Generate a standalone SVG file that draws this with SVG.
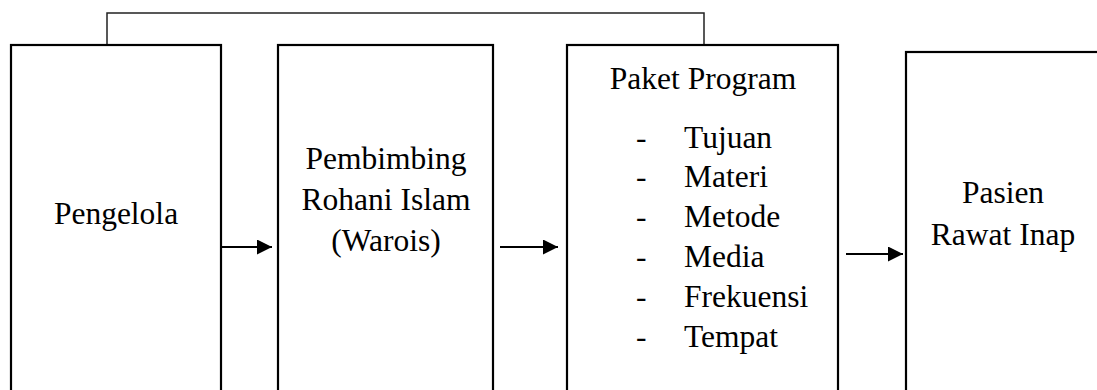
<svg xmlns="http://www.w3.org/2000/svg" width="1097" height="390" viewBox="0 0 1097 390">
<defs>
<style>
.box{fill:#fff;stroke:#000;stroke-width:2.2}
.t{font-family:'Liberation Serif','Times New Roman',serif;font-size:31.5px;fill:#000}
.c{text-anchor:middle}
.conn{fill:none;stroke:#000;stroke-width:2}
.top{fill:none;stroke:#222;stroke-width:1.5}
</style>
<marker id="ah" markerUnits="userSpaceOnUse" markerWidth="16" markerHeight="16" refX="15" refY="7.5" orient="auto">
<path d="M0,0 L15,7.5 L0,15 Z" fill="#000"/>
</marker>
</defs>
<g id="connectors">
<path class="top" d="M107,45 V13 H704 V45"/>
<line class="conn" x1="221" y1="247" x2="272" y2="247" marker-end="url(#ah)"/>
<line class="conn" x1="500" y1="247" x2="558" y2="247" marker-end="url(#ah)"/>
<line class="conn" x1="846" y1="254" x2="903" y2="254" marker-end="url(#ah)"/>
</g>
<g id="pengelola">
<rect class="box" x="11" y="45" width="210" height="360"/>
<text class="t c" x="116" y="224">Pengelola</text>
</g>
<g id="pembimbing">
<rect class="box" x="278" y="45" width="215" height="360"/>
<text class="t c" x="386" y="169">Pembimbing</text>
<text class="t c" x="386" y="210">Rohani Islam</text>
<text class="t c" x="386" y="251">(Warois)</text>
</g>
<g id="paket">
<rect class="box" x="567" y="45" width="271" height="360"/>
<text class="t c" x="703" y="89">Paket Program</text>
<g class="t">
<text x="636" y="148">-</text><text x="684" y="148">Tujuan</text>
<text x="636" y="187">-</text><text x="684" y="187">Materi</text>
<text x="636" y="227">-</text><text x="684" y="227">Metode</text>
<text x="636" y="267">-</text><text x="684" y="267">Media</text>
<text x="636" y="307">-</text><text x="684" y="307">Frekuensi</text>
<text x="636" y="347">-</text><text x="684" y="347">Tempat</text>
</g>
</g>
<g id="pasien">
<rect class="box" x="906" y="52" width="200" height="360"/>
<text class="t c" x="1003" y="203">Pasien</text>
<text class="t c" x="1003" y="245">Rawat Inap</text>
</g>
</svg>
